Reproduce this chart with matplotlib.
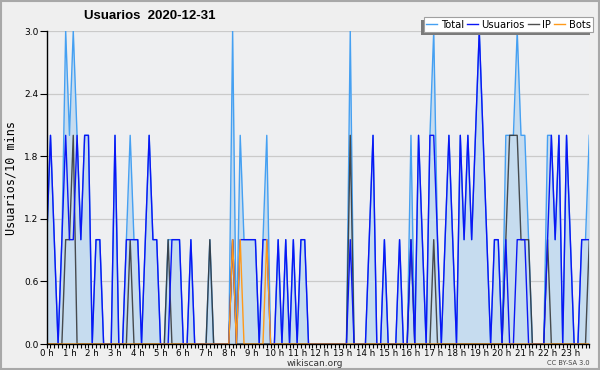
import matplotlib
matplotlib.use('Agg')
import matplotlib.pyplot as plt
from matplotlib.patches import Rectangle
from matplotlib.ticker import MultipleLocator, FormatStrFormatter

# valores cada 10 minutos (144 puntos)
usuarios = [1, 2, 1, 0, 1, 2, 1, 1, 2, 1,
            2, 2, 0, 1, 1, 0, 0, 0, 2, 0,
            0, 1, 1, 1, 1, 0, 1, 2, 1, 1,
            0, 0, 0, 1, 1, 1, 0, 0, 1, 0,
            0, 0, 0, 0, 0, 0, 0, 0, 0, 1,
            0, 1, 1, 1, 1, 1, 0, 1, 1, 0,
            0, 1, 0, 1, 0, 1, 0, 1, 1, 0,
            0, 0, 0, 0, 0, 0, 0, 0, 0, 0,
            1, 0, 0, 0, 0, 1, 2, 0, 0, 1,
            0, 0, 0, 1, 0, 0, 1, 0, 2, 1,
            0, 2, 2, 1, 0, 1, 2, 1, 0, 2,
            1, 2, 1, 2, 3, 2, 1, 0, 1, 1,
            0, 1, 0, 0, 1, 1, 1, 0, 0, 0,
            0, 0, 1, 2, 1, 2, 0, 2, 1, 0,
            0, 1, 1, 1]
ip = [0, 0, 0, 0, 0, 1, 1, 2, 0, 0,
      0, 0, 0, 0, 0, 0, 0, 0, 0, 0,
      0, 0, 1, 0, 0, 0, 0, 0, 0, 0,
      0, 0, 1, 0, 0, 0, 0, 0, 0, 0,
      0, 0, 0, 1, 0, 0, 0, 0, 0, 1,
      0, 0, 0, 0, 0, 0, 0, 0, 0, 0,
      0, 0, 0, 0, 0, 0, 0, 0, 0, 0,
      0, 0, 0, 0, 0, 0, 0, 0, 0, 0,
      2, 0, 0, 0, 0, 0, 0, 0, 0, 0,
      0, 0, 0, 0, 0, 0, 1, 0, 0, 0,
      0, 0, 1, 0, 0, 0, 0, 0, 0, 0,
      0, 0, 0, 0, 0, 0, 0, 0, 0, 0,
      0, 1, 2, 2, 2, 1, 1, 1, 0, 0,
      0, 0, 1, 0, 0, 0, 0, 0, 0, 0,
      0, 0, 0, 1]
bots = [0] * 49 + [1, 0, 1, 0, 0, 0, 0, 0, 0, 1] + [0] * 85
total = [1, 2, 1, 0, 1, 3, 2, 3, 2, 1,
         2, 2, 0, 1, 1, 0, 0, 0, 2, 0,
         0, 1, 2, 1, 1, 0, 1, 2, 1, 1,
         0, 0, 1, 1, 1, 1, 0, 0, 1, 0,
         0, 0, 0, 1, 0, 0, 0, 0, 0, 3,
         0, 2, 1, 1, 1, 1, 0, 1, 2, 0,
         0, 1, 0, 1, 0, 1, 0, 1, 1, 0,
         0, 0, 0, 0, 0, 0, 0, 0, 0, 0,
         3, 0, 0, 0, 0, 1, 2, 0, 0, 1,
         0, 0, 0, 1, 0, 0, 2, 0, 2, 1,
         0, 2, 3, 1, 0, 1, 2, 1, 0, 2,
         1, 2, 1, 2, 3, 2, 1, 0, 1, 1,
         0, 2, 2, 2, 3, 2, 2, 1, 0, 0,
         0, 0, 2, 2, 1, 2, 0, 2, 1, 0,
         0, 1, 1, 2]
horas = ['%d h' % h for h in range(24)]

x = list(range(len(total)))

fig = plt.figure(figsize=(6, 3.7), dpi=100, facecolor='#efefef')
fig.patches.append(Rectangle((0.001, 0.002), 0.997, 0.995, transform=fig.transFigure,
                             fill=False, edgecolor='#a8a8a8', lw=1.5))
ax = fig.add_axes([46.7 / 600, 1 - 344 / 370, (589.3 - 46.7) / 600, (344 - 31) / 370])
ax.set_facecolor('#eeeff1')

ax.fill_between(x, total, 0, color='#c6dcef', lw=0, zorder=1)
ax.plot(x, total, color='#45a0f2', lw=1.0, label='Total', zorder=2)
ax.plot(x, ip, color='#303030', lw=1.0, alpha=0.85, label='IP', zorder=3)
ax.plot(x, usuarios, color='#0a16f5', lw=1.0, label='Usuarios', zorder=4)
ax.plot(x, bots, color='#ff9a1a', lw=1.0, label='Bots', zorder=5)

ax.set_xlim(0, len(total) - 1)
ax.set_ylim(0, 3.0)
ax.set_xticks(range(0, len(total), 6))
ax.set_xticklabels(horas)
ax.xaxis.set_minor_locator(MultipleLocator(1))
ax.yaxis.set_major_locator(MultipleLocator(0.6))
ax.yaxis.set_major_formatter(FormatStrFormatter('%.1f'))
ax.tick_params(axis='x', which='major', length=3, width=0.8, pad=0.3, labelsize=6.2)
ax.tick_params(axis='x', which='minor', length=3, width=0.8)
ax.tick_params(axis='y', length=5, width=0.8, pad=1, labelsize=6.5)
ax.grid(axis='y', color='#cacaca', lw=0.9)
ax.set_axisbelow(True)
for s in ['top', 'right']:
    ax.spines[s].set_visible(False)
for s in ['left', 'bottom']:
    ax.spines[s].set_linewidth(1.0)
    ax.spines[s].set_zorder(6)

ax.set_ylabel('Usuarios/10 mins', family='DejaVu Sans Mono', fontsize=8.5)
ax.yaxis.set_label_coords((17 - 46.7) / 542.6, (344 - 178) / 313)

fig.text(150 / 600, 1 - 16 / 370, 'Usuarios  2020-12-31', ha='center', va='center',
         fontsize=9.5, fontweight='bold', family='Liberation Sans')
fig.text(315 / 600, 1 - 363 / 370, 'wikiscan.org', ha='center', va='center',
         fontsize=6.5, color='#333333')
fig.text(590 / 600, 1 - 363 / 370, 'CC BY-SA 3.0', ha='right', va='center',
         fontsize=4.8, color='#444444')

handles, labels = ax.get_legend_handles_labels()
orden = [labels.index(n) for n in ['Total', 'Usuarios', 'IP', 'Bots']]
leg = fig.legend([handles[k] for k in orden], [labels[k] for k in orden],
                 loc='upper right', bbox_to_anchor=(593 / 600, 1 - 17 / 370), ncol=4,
                 fontsize=7.2, frameon=True, fancybox=False, borderaxespad=0,
                 handlelength=1.1, handletextpad=0.35, columnspacing=0.3, borderpad=0.25)
leg.get_frame().set_edgecolor('#a0a0a0')
leg.get_frame().set_linewidth(0.8)
leg.get_frame().set_alpha(1)

# sombra de la leyenda, desplazada a la izquierda y abajo
fig.canvas.draw()
bb = leg.get_window_extent()
fig.patches.append(Rectangle((bb.x0 - 3, bb.y0 - 3), bb.width, bb.height, transform=None,
                             facecolor='#7a7a7a', edgecolor='none', zorder=4))

fig.savefig('out.png', dpi=100, facecolor=fig.get_facecolor())
